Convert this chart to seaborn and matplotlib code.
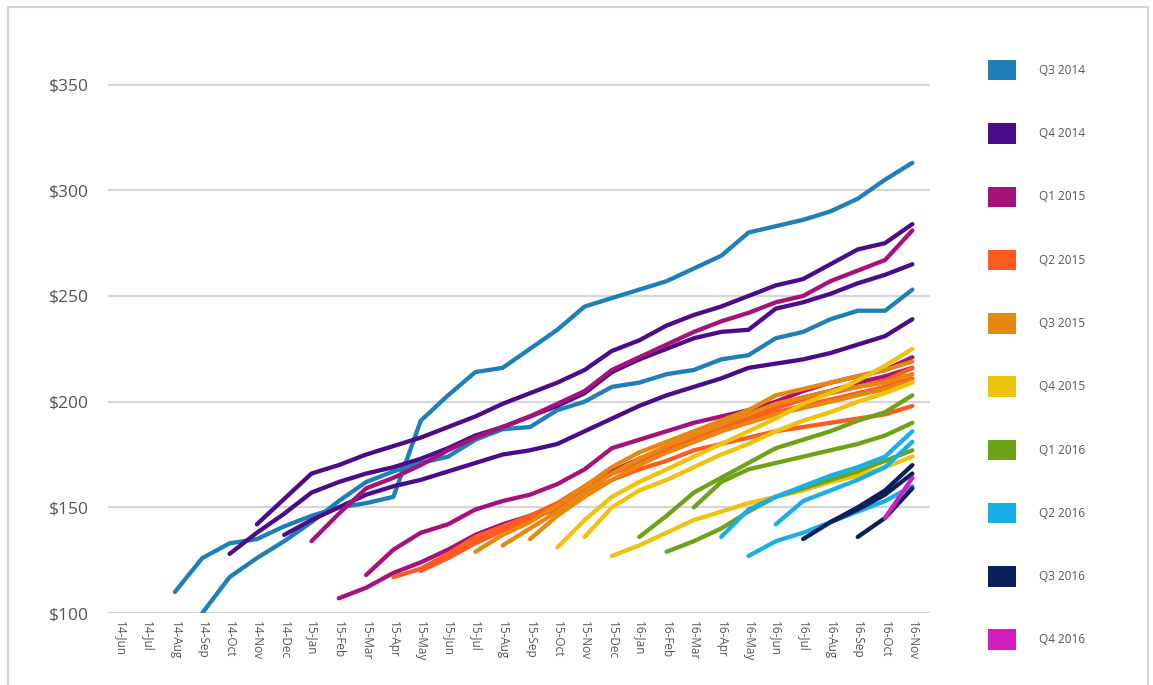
import matplotlib
matplotlib.use("Agg")
import matplotlib.pyplot as plt
from matplotlib.patches import Patch, Rectangle
import seaborn as sns
import pandas as pd

# Month axis
months = ["14-Jun", "14-Jul", "14-Aug", "14-Sep", "14-Oct", "14-Nov", "14-Dec",
          "15-Jan", "15-Feb", "15-Mar", "15-Apr", "15-May", "15-Jun", "15-Jul",
          "15-Aug", "15-Sep", "15-Oct", "15-Nov", "15-Dec",
          "16-Jan", "16-Feb", "16-Mar", "16-Apr", "16-May", "16-Jun", "16-Jul",
          "16-Aug", "16-Sep", "16-Oct", "16-Nov"]

cohorts = ["Q3 2014", "Q4 2014", "Q1 2015", "Q2 2015", "Q3 2015",
           "Q4 2015", "Q1 2016", "Q2 2016", "Q3 2016", "Q4 2016"]
colors = ["#1f80b8", "#4b0c8c", "#a5137a", "#ff5a1f", "#e8870f",
          "#efc20c", "#6fa317", "#1aaee8", "#0b1f5c", "#d41cc4"]

# Monthly sign-up cohorts: values from the first month through 16-Nov
q3_2014_aug = [110, 126, 133, 135, 141, 146, 150, 152, 155, 191, 203, 214, 216, 225,
               234, 245, 249, 253, 257, 263, 269, 280, 283, 286, 290, 296, 305, 313]
q3_2014_sep = [100, 117, 126, 134, 143, 153, 162, 167, 171, 174, 182, 187, 188, 196,
               200, 207, 209, 213, 215, 220, 222, 230, 233, 239, 243, 243, 253]
q4_2014_oct = [128, 138, 147, 157, 162, 166, 169, 173, 178, 184, 188, 193, 198, 204,
               214, 220, 225, 230, 233, 234, 244, 247, 251, 256, 260, 265]
q4_2014_nov = [142, 154, 166, 170, 175, 179, 183, 188, 193, 199, 204, 209, 215, 224,
               229, 236, 241, 245, 250, 255, 258, 265, 272, 275, 284]
q4_2014_dec = [137, 144, 150, 156, 160, 163, 167, 171, 175, 177, 180, 186, 192,
               198, 203, 207, 211, 216, 218, 220, 223, 227, 231, 239]
q1_2015_jan = [134, 147, 159, 164, 170, 177, 183, 188, 193, 199, 205, 215,
               221, 227, 233, 238, 242, 247, 250, 257, 262, 267, 281]
q1_2015_feb = [107, 112, 119, 124, 130, 137, 142, 146, 151, 159, 167,
               173, 178, 183, 188, 193, 198, 202, 205, 209, 212, 216]
q1_2015_mar = [118, 130, 138, 142, 149, 153, 156, 161, 168, 178,
               182, 186, 190, 193, 196, 200, 205, 209, 212, 215, 221]
q2_2015_apr = [117, 121, 128, 136, 141, 146, 152, 160, 166,
               172, 177, 182, 187, 192, 197, 201, 204, 207, 210, 216]
q2_2015_may = [120, 126, 134, 140, 145, 149, 156, 163,
               168, 172, 177, 180, 183, 186, 188, 190, 192, 194, 198]
q2_2015_jun = [126, 133, 139, 144, 151, 159, 166,
               171, 176, 181, 186, 191, 195, 198, 201, 204, 207, 211]
q3_2015_jul = [129, 137, 143, 151, 160, 169,
               176, 181, 186, 191, 196, 203, 206, 209, 212, 215, 219]
q3_2015_aug = [132, 140, 148, 157, 166,
               173, 179, 184, 189, 194, 199, 202, 205, 207, 209, 213]
q3_2015_sep = [135, 146, 155, 163,
               170, 176, 181, 186, 190, 194, 197, 200, 203, 206, 210]
q4_2015_oct = [131, 144, 155, 162, 168, 174, 180, 186, 192, 199, 204, 210, 217, 225]
q4_2015_nov = [136, 150, 158, 163, 169, 175, 180, 186, 191, 195, 200, 204, 209]
q4_2015_dec = [127, 132, 138, 144, 148, 152, 155, 158, 162, 165, 169, 174]
q1_2016_jan = [136, 146, 157, 164, 171, 178, 182, 186, 191, 195, 203]
q1_2016_feb = [129, 134, 140, 148, 155, 159, 163, 167, 172, 177]
q1_2016_mar = [150, 162, 168, 171, 174, 177, 180, 184, 190]
q2_2016_apr = [136, 149, 155, 160, 165, 169, 174, 186]
q2_2016_may = [127, 134, 138, 143, 148, 153, 160]
q2_2016_jun = [142, 153, 158, 163, 169, 181]
q3_2016_jul = [135, 143, 150, 158, 170]
q3_2016_aug = [143, 149, 156, 166]
q3_2016_sep = [136, 145, 159]
q4_2016_oct = [145, 164]

series = [
    ("Q3 2014", q3_2014_aug), ("Q3 2014", q3_2014_sep),
    ("Q4 2014", q4_2014_oct), ("Q4 2014", q4_2014_nov), ("Q4 2014", q4_2014_dec),
    ("Q1 2015", q1_2015_jan), ("Q1 2015", q1_2015_feb), ("Q1 2015", q1_2015_mar),
    ("Q2 2015", q2_2015_apr), ("Q2 2015", q2_2015_may), ("Q2 2015", q2_2015_jun),
    ("Q3 2015", q3_2015_jul), ("Q3 2015", q3_2015_aug), ("Q3 2015", q3_2015_sep),
    ("Q4 2015", q4_2015_oct), ("Q4 2015", q4_2015_nov), ("Q4 2015", q4_2015_dec),
    ("Q1 2016", q1_2016_jan), ("Q1 2016", q1_2016_feb), ("Q1 2016", q1_2016_mar),
    ("Q2 2016", q2_2016_apr), ("Q2 2016", q2_2016_may), ("Q2 2016", q2_2016_jun),
    ("Q3 2016", q3_2016_jul), ("Q3 2016", q3_2016_aug), ("Q3 2016", q3_2016_sep),
    ("Q4 2016", q4_2016_oct),
]

rows = []
for k, (cohort, vals) in enumerate(series):
    start = len(months) - len(vals)
    for j, v in enumerate(vals):
        rows.append({"month": start + j, "value": v, "cohort": cohort, "line": k})
df = pd.DataFrame(rows)

sns.set_style("white")
plt.rcParams["font.family"] = ["Open Sans", "DejaVu Sans"]

fig = plt.figure(figsize=(11.53, 6.85), dpi=100)
ax = fig.add_axes([0.0937, 0.105, 0.713, 0.787])

palette = dict(zip(cohorts, colors))
for k, (cohort, vals) in enumerate(series):
    sns.lineplot(data=df[df["line"] == k], x="month", y="value",
                 color=palette[cohort], linewidth=3.1, estimator=None,
                 sort=False, legend=False, ax=ax, solid_capstyle="round")

ax.set_ylim(100, 355)
ax.set_xlim(-0.45, 29.65)
ax.set_yticks([100, 150, 200, 250, 300, 350])
ax.set_yticklabels(["$100", "$150", "$200", "$250", "$300", "$350"],
                   fontsize=12.5, color="#555555")
ax.set_xticks(range(len(months)))
ax.set_xticklabels(months, rotation=-90, fontsize=8.5, color="#555555")
ax.tick_params(axis="both", length=0)
ax.tick_params(axis="y", pad=14)
ax.tick_params(axis="x", pad=6)
ax.yaxis.grid(True, color="#d6d6d6", linewidth=1.6)
ax.set_axisbelow(True)
for s in ["top", "right", "left", "bottom"]:
    ax.spines[s].set_visible(False)
ax.set_xlabel("")
ax.set_ylabel("")

handles = [Patch(facecolor=c, edgecolor="none", label=q) for q, c in zip(cohorts, colors)]
fig.legend(handles=handles, loc="upper left", bbox_to_anchor=(0.848, 0.928),
           frameon=False, fontsize=8.5, handlelength=2.3, handleheight=2.3,
           labelspacing=3.62, handletextpad=2.0, labelcolor="#555555")

fig.patches.append(Rectangle((0.007, -0.01), 0.989, 0.9998, transform=fig.transFigure,
                             fill=False, edgecolor="#d4d4d4", linewidth=1.5))

fig.savefig("out.png", dpi=100, facecolor="white")
